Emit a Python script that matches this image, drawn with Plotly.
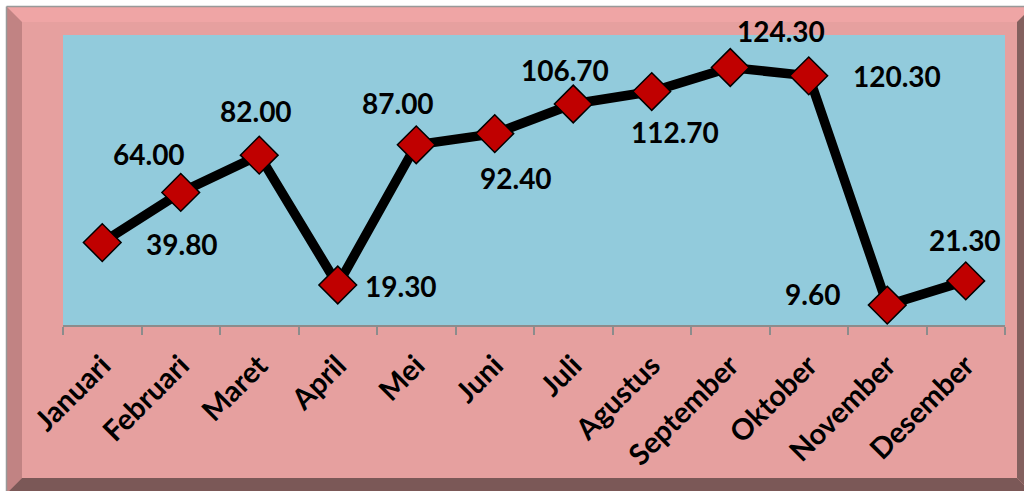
import plotly.graph_objects as go

# monthly values
bulan = ['Januari', 'Februari', 'Maret', 'April', 'Mei', 'Juni', 'Juli',
         'Agustus', 'September', 'Oktober', 'November', 'Desember']
nilai = [39.80, 64.00, 82.00, 19.30, 87.00, 92.40, 106.70, 112.70, 124.30, 120.30, 9.60, 21.30]

# where each value label sits relative to its marker (pixels, right / up)
label_dx = [80, -32, -3, 63, -18, 21, -8, 23, 51, 88, -75, -1]
label_dy = [-1, 38, 44, -1, 42, -44, 34, -40, 37, 0, 11, 41]

W, H = 1024, 491
L, R, T, B = 63, 19, 35, 166
PW, PH = W - L - R, H - T - B


# pixel -> paper coordinates, used for the bevelled frame
def px(x):
    return (x - L) / PW


def py(y):
    return (H - B - y) / PH


def poly(pts, color):
    path = 'M ' + ' L '.join(f'{px(x):.5f},{py(y):.5f}' for x, y in pts) + ' Z'
    return dict(type='path', xref='paper', yref='paper', path=path,
                fillcolor=color, line=dict(width=0), layer='below')


fig = go.Figure()

fig.add_trace(go.Scatter(
    x=bulan, y=nilai, mode='lines+markers',
    line=dict(color='black', width=9.5),
    marker=dict(symbol='diamond', size=29, color='#C00000',
                line=dict(color='black', width=1.5)),
    cliponaxis=False, hoverinfo='skip'
))

for b, v, dx, dy in zip(bulan, nilai, label_dx, label_dy):
    fig.add_annotation(x=b, y=v, text=f'{v:.2f}', showarrow=False,
                       xshift=dx, yshift=dy,
                       font=dict(family='Lato', size=28, color='black', weight='bold'))

shapes = [
    # pink frame
    poly([(7, 7), (1040, 7), (1040, 500), (7, 500)], '#E6A09F'),
    # bevels
    poly([(7, 7), (1032, 7), (1017, 22), (22, 22)], '#EFA5A5'),
    poly([(7, 7), (22, 22), (22, 478), (7, 493)], '#C18383'),
    poly([(22, 478), (1017, 478), (1032, 493), (7, 493)], '#7B5857'),
    poly([(1017, 22), (1032, 7), (1032, 493), (1017, 478)], '#83605E'),
    # plot area
    poly([(63, 35), (1005, 35), (1005, 325), (63, 325)], '#92CBDC'),
    # outer grey border
    dict(type='line', xref='paper', yref='paper', x0=px(6.5), y0=py(6.5), x1=px(1030), y1=py(6.5),
         line=dict(color='#999999', width=1.5), layer='below'),
    dict(type='line', xref='paper', yref='paper', x0=px(6.5), y0=py(6.5), x1=px(6.5), y1=py(495),
         line=dict(color='#999999', width=1.5), layer='below'),
]

fig.update_layout(
    width=W, height=H,
    margin=dict(l=L, r=R, t=T, b=B, autoexpand=False),
    paper_bgcolor='white',
    plot_bgcolor='#92CBDC',
    showlegend=False,
    shapes=shapes,
)

fig.update_xaxes(
    range=[-0.5, len(bulan) - 0.5],
    showgrid=False, zeroline=False, automargin=False,
    showline=True, linecolor='#8C8C8C', linewidth=2,
    ticks='outside', tickson='boundaries', ticklen=8, tickcolor='#8C8C8C', tickwidth=2,
    tickangle=-45, ticklabelstandoff=10,
    tickfont=dict(family='Lato', size=29, color='black', weight='bold'),
)
fig.update_yaxes(range=[0, 140], visible=False, automargin=False)

# drop the browser's default body margin so the figure sits at the page corner
fig.write_html('out.html', config={'displayModeBar': False},
               post_script="document.body.style.margin='0';")
